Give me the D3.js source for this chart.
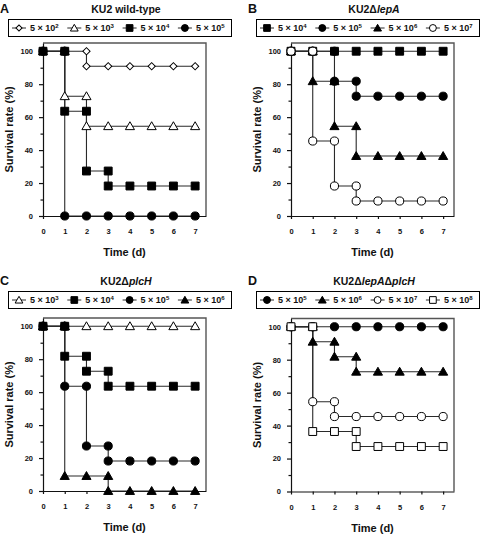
<!DOCTYPE html>
<html>
<head>
<meta charset="utf-8">
<script src="https://cdn.jsdelivr.net/npm/d3@7"></script>
<style>
  html, body { margin: 0; padding: 0; background: #fff; }
  svg text { font-family: "Liberation Sans", Arial, sans-serif; font-weight: bold; fill: #111; }
</style>
</head>
<body>
<svg id="chart" width="480" height="534"></svg>
<script>
// ---------- DATA ----------
const days = [0, 1, 2, 3, 4, 5, 6, 7];
const yMajorTicks = [0, 20, 40, 60, 80, 100];
const yMinorTicks = [10, 30, 50, 70, 90];
const panelLetters = ["A", "B", "C", "D"];
// title parts: [text, italic?]
const titleA = [["KU2 wild-type", false]];
const titleB = [["KU2\u0394", false], ["lepA", true]];
const titleC = [["KU2\u0394", false], ["plcH", true]];
const titleD = [["KU2\u0394", false], ["lepA", true], ["\u0394", false], ["plcH", true]];

// legend exponents (5 x 10^n) and marker types
const expA = ["2", "3", "4", "5"];
const markA = ["diamondOpen", "triangleOpen", "squareFilled", "circleFilled"];
const expB = ["4", "5", "6", "7"];
const markB = ["squareFilled", "circleFilled", "triangleFilled", "circleOpen"];
const expC = ["3", "4", "5", "6"];
const markC = ["triangleOpen", "squareFilled", "circleFilled", "triangleFilled"];
const expD = ["5", "6", "7", "8"];
const markD = ["circleFilled", "triangleFilled", "circleOpen", "squareOpen"];

// survival rate (%) at each day 0..7
const survA = [
  [100, 100, 90.9, 90.9, 90.9, 90.9, 90.9, 90.9],
  [100, 72.7, 54.5, 54.5, 54.5, 54.5, 54.5, 54.5],
  [100, 63.6, 27.3, 18.2, 18.2, 18.2, 18.2, 18.2],
  [100, 0, 0, 0, 0, 0, 0, 0]
];
const survB = [
  [100, 100, 100, 100, 100, 100, 100, 100],
  [100, 100, 81.8, 72.7, 72.7, 72.7, 72.7, 72.7],
  [100, 81.8, 54.5, 36.4, 36.4, 36.4, 36.4, 36.4],
  [100, 45.5, 18.2, 9.1, 9.1, 9.1, 9.1, 9.1]
];
const survC = [
  [100, 100, 100, 100, 100, 100, 100, 100],
  [100, 81.8, 72.7, 63.6, 63.6, 63.6, 63.6, 63.6],
  [100, 63.6, 27.3, 18.2, 18.2, 18.2, 18.2, 18.2],
  [100, 9.1, 9.1, 0, 0, 0, 0, 0]
];
const survD = [
  [100, 100, 100, 100, 100, 100, 100, 100],
  [100, 90.9, 81.8, 72.7, 72.7, 72.7, 72.7, 72.7],
  [100, 54.5, 45.5, 45.5, 45.5, 45.5, 45.5, 45.5],
  [100, 36.4, 36.4, 27.3, 27.3, 27.3, 27.3, 27.3]
];
// drawing order (later = on top)
const orderA = [0, 1, 3, 2];
const orderB = [2, 1, 0, 3];
const orderC = [0, 2, 3, 1];
const orderD = [0, 1, 2, 3];

// ---------- LAYOUT ----------
const panels = [
  { letter: panelLetters[0], title: titleA, exp: expA, mark: markA, surv: survA, order: orderA, ox: 0,   oy: 0,   ty: 0 },
  { letter: panelLetters[1], title: titleB, exp: expB, mark: markB, surv: survB, order: orderB, ox: 248, oy: 0,   ty: 0 },
  { letter: panelLetters[2], title: titleC, exp: expC, mark: markC, surv: survC, order: orderC, ox: 0,   oy: 275, ty: 272 },
  { letter: panelLetters[3], title: titleD, exp: expD, mark: markD, surv: survD, order: orderD, ox: 248, oy: 275.5, ty: 272 }
];

const svg = d3.select("#chart");
const LINE = "#2a2a2a";

function symbolFor(type, scale) {
  const s = scale || 1;
  if (type.startsWith("square")) return d3.symbol().type(d3.symbolSquare).size(62 * s * s)();
  if (type.startsWith("circle")) return d3.symbol().type(d3.symbolCircle).size(52 * s * s)();
  if (type.startsWith("triangle")) return d3.symbol().type(d3.symbolTriangle).size(36 * s * s)();
  if (type.startsWith("diamond")) return d3.symbol().type(d3.symbolSquare).size(26 * s * s)();
  return null;
}
function drawMarker(g, type, x, y, scale) {
  const p = g.append("path")
    .attr("d", symbolFor(type, scale))
    .attr("transform", `translate(${x},${y})` + (type.startsWith("diamond") ? " rotate(45)" : "") + (type.startsWith("triangle") ? " translate(0,0.8)" : ""))
    .attr("stroke", "#000")
    .attr("stroke-width", 1);
  if (type.endsWith("Open")) p.attr("fill", "#fff"); else p.attr("fill", "#000");
}

panels.forEach(P => {
  const g = svg.append("g").attr("transform", `translate(${P.ox},${P.oy})`);
  const gt = svg.append("g").attr("transform", `translate(${P.ox},${P.ty})`);

  const x = d3.scaleLinear().domain([0, 7.5]).range([43, 206]);
  const y = d3.scaleLinear().domain([0, 105]).range([216, 43]);

  // panel letter
  gt.append("text").attr("x", 0).attr("y", 12.5).attr("font-size", 12.5).text(P.letter);

  // title
  const t = gt.append("text").attr("x", 126).attr("y", 12.5)
    .attr("text-anchor", "middle").attr("font-size", 10.5);
  P.title.forEach(([s, it]) => {
    const ts = t.append("tspan").text(s);
    if (it) ts.attr("font-style", "italic");
  });

  // legend
  const lg = gt.append("g");
  lg.append("rect").attr("x", 8.5).attr("y", 19.5).attr("width", 223).attr("height", 17)
    .attr("fill", "#fff").attr("stroke", "#000").attr("stroke-width", 1);
  P.exp.forEach((e, i) => {
    const lx = 12 + i * 55.3;
    const ly = 28;
    lg.append("line").attr("x1", lx).attr("x2", lx + 14).attr("y1", ly).attr("y2", ly)
      .attr("stroke", LINE).attr("stroke-width", 1);
    drawMarker(lg, P.mark[i], lx + 7, ly, 0.85);
    const tx = lg.append("text").attr("x", lx + 18).attr("y", ly + 3.3).attr("font-size", 9);
    tx.append("tspan").text("5 \u00d7 10");
    tx.append("tspan").attr("font-size", 6).attr("dy", -3.5).text(e);
  });

  // frame (top and right)
  g.append("path")
    .attr("d", `M${x(0)},${y(105)}H${x(7.5)}V${y(0)}`)
    .attr("fill", "none").attr("stroke", "#555").attr("stroke-width", 1.4);

  // axes
  const ay = g.append("g").attr("transform", `translate(${x(0)},0)`)
    .call(d3.axisLeft(y).tickValues(yMajorTicks).tickSize(4).tickSizeOuter(0).tickPadding(6));
  ay.selectAll("text").attr("font-size", 7.5).attr("font-family", "Liberation Sans, Arial, sans-serif").attr("font-weight", "bold");
  const aym = g.append("g").attr("transform", `translate(${x(0)},0)`)
    .call(d3.axisLeft(y).tickValues(yMinorTicks).tickSize(2.5).tickSizeOuter(0).tickFormat(""));
  aym.select(".domain").remove();
  const ax = g.append("g").attr("transform", `translate(0,${y(0)})`)
    .call(d3.axisBottom(x).tickValues(days).tickSize(3).tickSizeOuter(0).tickPadding(10));
  ax.selectAll("text").attr("font-size", 7.5).attr("font-family", "Liberation Sans, Arial, sans-serif").attr("font-weight", "bold");
  [ay, aym, ax].forEach(a => {
    a.selectAll("path,line").attr("stroke", "#111").attr("stroke-width", 1.2);
    a.selectAll("text").attr("fill", "#111");
  });

  // axis titles
  g.append("text").attr("x", 124.5).attr("y", 256).attr("text-anchor", "middle")
    .attr("font-size", 11).text("Time (d)");
  g.append("text").attr("transform", `translate(12.5,${(y(0) + y(105)) / 2}) rotate(-90)`)
    .attr("text-anchor", "middle").attr("font-size", 11).text("Survival rate (%)");

  // step lines
  const line = d3.line().x(d => x(d[0])).y(d => y(d[1])).curve(d3.curveStepAfter);
  P.order.forEach(si => {
    const vals = P.surv[si];
    g.append("path").datum(days.map((d, i) => [d, vals[i]]))
      .attr("d", line).attr("fill", "none").attr("stroke", LINE).attr("stroke-width", 1.1);
  });
  // markers
  P.order.forEach(si => {
    const vals = P.surv[si];
    const pts = [];
    days.forEach((d, i) => {
      if (i > 0 && vals[i - 1] !== vals[i]) pts.push([d, vals[i - 1]]);
      pts.push([d, vals[i]]);
    });
    pts.forEach(p => drawMarker(g, P.mark[si], x(p[0]), y(p[1]), 1));
  });
});
</script>
</body>
</html>
